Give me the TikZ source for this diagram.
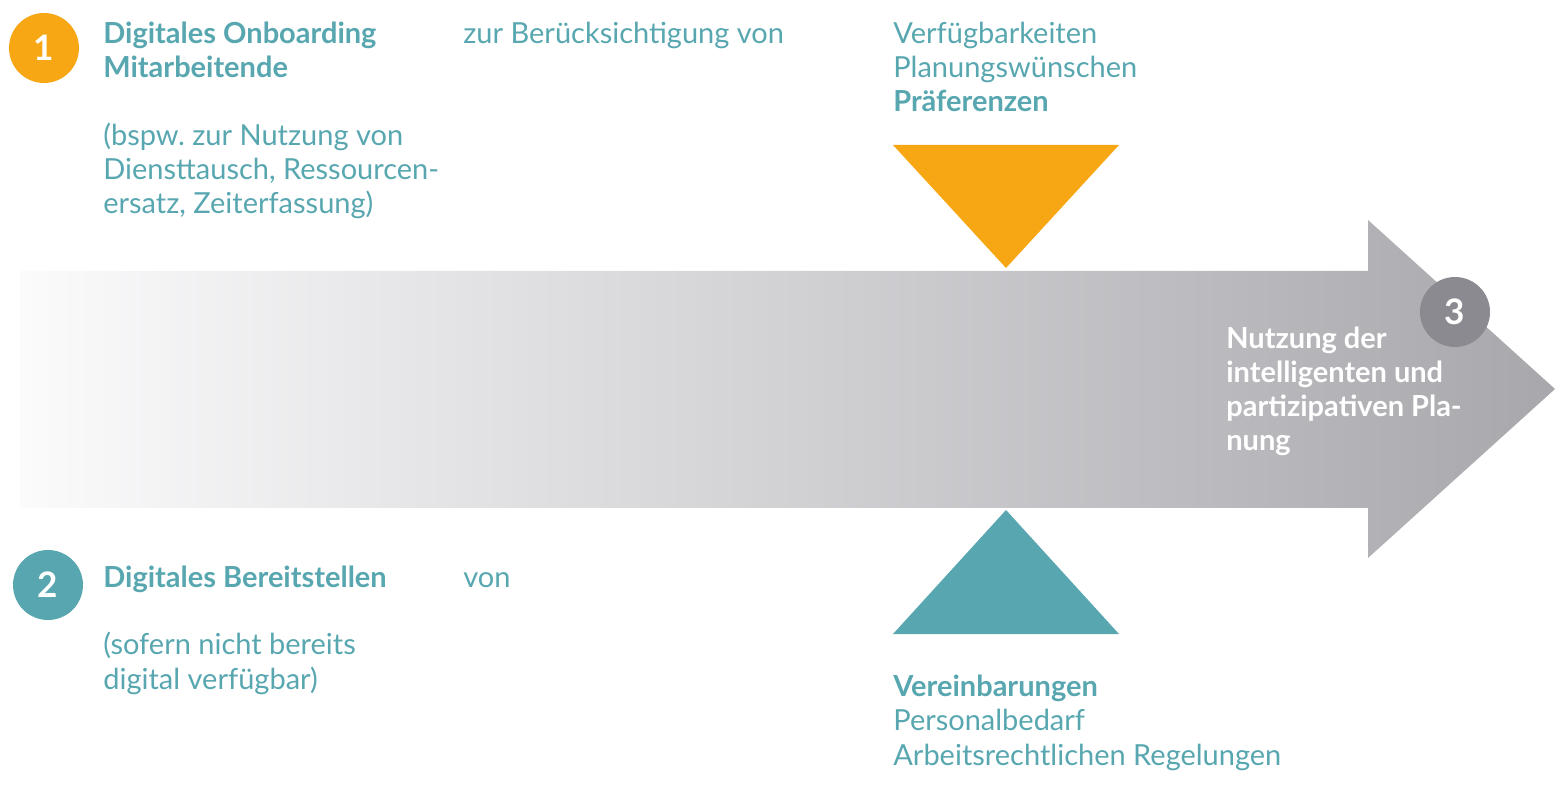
\documentclass[tikz,border=0pt]{standalone}
\usepackage{fontspec}
\setmainfont{Lato}
\usepackage{tikz}
\frenchspacing
\definecolor{planorange}{HTML}{F6A713}
\definecolor{planteal}{HTML}{58A7B0}
\definecolor{plangray}{HTML}{8B8A91}
\definecolor{arrowleft}{HTML}{FBFBFC}
\definecolor{arrowright}{HTML}{A8A7AC}
\newcommand{\txtsize}{\fontsize{16.5}{19.4}\selectfont}

\begin{document}
\begin{tikzpicture}[x=0.02cm, y=-0.02cm,
  numdot/.style={circle, minimum size=1.4cm, inner sep=0, text=white, font=\fontsize{20}{22}\selectfont\bfseries},
  plantext/.style={anchor=base west, inner sep=0, align=left, text=planteal, font=\txtsize}]
\useasboundingbox (0,0) rectangle (1561,786);
% big arrow
\shade[left color=arrowleft, right color=arrowright] (20,271) -- (1368,271) -- (1368,220) -- (1555,389) -- (1368,558) -- (1368,508) -- (20,508) -- cycle;
\fill[planorange] (893,145) -- (1119,145) -- (1006,268) -- cycle;
\fill[planteal] (1006,510) -- (1119,634) -- (893,634) -- cycle;
% numbers
\node[numdot, fill=planorange] (n1) at (44,48) {1};
\node[numdot, fill=planteal] (n2) at (48,585) {2};
\node[numdot, fill=plangray] (n3) at (1455,312) {3};
% texts (anchored at the baseline of the last line)
\node[plantext, font=\txtsize\bfseries] (head1) at (103,78) {Digitales Onboarding\\Mitarbeitende};
\node[plantext] (note1) at (103,214) {(bspw. zur Nutzung von\\Diensttausch, Ressourcen-\\ersatz, Zeiterfassung)};
\node[plantext] (mid1) at (463,44) {zur Berücksichtigung von};
\node[plantext] (list1) at (893,112) {Verfügbarkeiten\\Planungswünschen\\\textbf{Präferenzen}};
\node[plantext, font=\txtsize\bfseries] (head2) at (103,587) {Digitales Bereitstellen};
\node[plantext] (note2) at (103,689) {(sofern nicht bereits\\digital verfügbar)};
\node[plantext] (mid2) at (463,587) {von};
\node[plantext] (list2) at (893,765) {\textbf{Vereinbarungen}\\Personalbedarf\\Arbeitsrechtlichen Regelungen};
\node[plantext, text=white, font=\txtsize\bfseries] (goal) at (1226,451) {Nutzung der\\intelligenten und\\partizipativen Pla-\\nung};
\end{tikzpicture}
\end{document}
